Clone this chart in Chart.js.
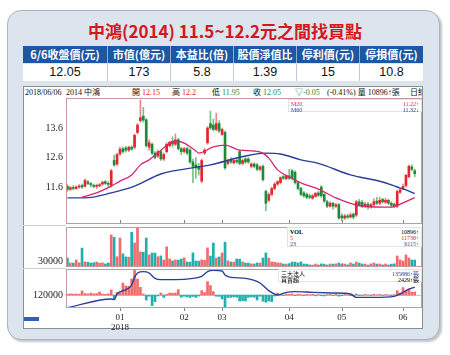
<!DOCTYPE html>
<html>
<head>
<meta charset="utf-8">
<script src="https://cdn.jsdelivr.net/npm/chart.js@4.4.0/dist/chart.umd.min.js"></script>
<style>
  body { margin: 0; width: 450px; height: 355px; background: #fff; position: relative; overflow: hidden;
         font-family: "Noto Sans CJK TC", sans-serif; }
  .abs { position: absolute; }
  #panel { left: 7px; top: 10px; width: 431px; height: 328px; border-radius: 14px; background: #dce4ed;
           border: 1px solid #a8b4c1; box-shadow: 2px 2px 2px rgba(80, 90, 100, .35); }
  #title { left: 0; width: 450px; top: 19px; text-align: center; color: #d4181e; font-weight: bold;
           font-size: 17px; line-height: 24px; white-space: nowrap; }
  .row { left: 23px; width: 400px; height: 17px; display: flex; }
  .row div { box-sizing: border-box; text-align: center; line-height: 17px; white-space: nowrap; }
  #head { top: 46px; background: #1d56a3; }
  #head div { color: #fff; font-size: 11px; font-weight: bold; border-right: 1px solid #8fabd6; }
  #vals { top: 64px; background: #fff; }
  #vals div { color: #111; font-size: 12.5px; border-right: 1px solid #bccbdb; font-family: "Liberation Sans", "Noto Sans", sans-serif; }
  .row div:last-child { border-right: none !important; }
  #box { left: 23px; top: 86px; width: 400px; height: 243px; background: #fff; border: 1px solid #8d8d8d; box-sizing: border-box; overflow: hidden; }
  .info { position: absolute; top: 88px; font-size: 8px; line-height: 10px; white-space: nowrap; color: #111;
          font-family: "Liberation Serif", "Noto Sans CJK TC", serif; }
  .r { color: #e0242a; } .g { color: #2a8a3a; } .b { color: #2a3d9c; } .m { color: #d6246e; }
  .leg { position: absolute; background: #fff; border: 1px solid #e2e2e2; box-sizing: border-box;
         font-family: "Liberation Serif", "Noto Sans CJK TC", serif; font-size: 6px; line-height: 6px; }
  .leg span { position: absolute; white-space: nowrap; }
  canvas { position: absolute; left: 23px; }
  .sep { position: absolute; left: 23px; width: 43px; height: 1px; background: #cfcfcf; }
</style>
</head>
<body>
<div id="panel" class="abs"></div>
<div id="title" class="abs">中鴻(2014) 11.5~12.2元之間找買點</div>
<div id="head" class="row abs">
  <div style="width:85px">6/6收盤價(元)</div><div style="width:63px">市值(億元)</div><div style="width:63px">本益比(倍)</div>
  <div style="width:63px">股價淨值比</div><div style="width:63px">停利價(元)</div><div style="width:63px">停損價(元)</div>
</div>
<div id="vals" class="row abs">
  <div style="width:85px">12.05</div><div style="width:63px">173</div><div style="width:63px">5.8</div>
  <div style="width:63px">1.39</div><div style="width:63px">15</div><div style="width:63px">10.8</div>
</div>
<div id="box" class="abs"></div>

<span class="info" style="left:25px">2018/06/06</span>
<span class="info" style="left:66px">2014 中鴻</span>
<span class="info" style="left:132px">開 <span class="r">12.15</span></span>
<span class="info" style="left:172px">高 <span class="r">12.2</span></span>
<span class="info" style="left:212px">低 <span class="g">11.95</span></span>
<span class="info" style="left:253px">收 <span class="g">12.05</span></span>
<span class="info g" style="left:295px">▽-0.05</span>
<span class="info" style="left:327px">(-0.41%) 量 10896↑張</span>
<span class="info" style="left:410px;width:12px;overflow:hidden">日線</span>

<div class="sep" style="top:225px"></div>
<div class="sep" style="top:268px"></div>
<div class="abs" style="left:24px;top:317px;width:15px;height:4px;background:#3060b8"></div>

<canvas id="priceChart" width="400" height="126" style="top:98px"></canvas>
<canvas id="volChart" width="400" height="40" style="top:227px"></canvas>
<canvas id="instChart" width="400" height="61" style="top:269px"></canvas>

<div class="leg" style="left:288px;top:99px;width:134px;height:13px">
  <span class="m" style="left:2px;top:1px">M20</span><span class="b" style="left:2px;top:7px">M60</span>
  <span class="m" style="right:2px;top:1px">11.22↑</span><span class="b" style="right:2px;top:7px">11.32↓</span>
</div>
<div class="leg" style="left:287px;top:227px;width:135px;height:20px">
  <span style="left:2px;top:1px;font-weight:bold">VOL</span><span class="r" style="left:2px;top:7px">5</span><span class="b" style="left:2px;top:13px">23</span>
  <span style="right:2px;top:1px">10896↑</span><span class="r" style="right:2px;top:7px">11738↑</span><span class="b" style="right:2px;top:13px">6115↑</span>
</div>
<div class="leg" style="left:278px;top:269px;width:144px;height:13px">
  <span style="left:2px;top:1px">三大法人</span><span style="left:2px;top:7px">買賣超</span>
  <span class="b" style="right:2px;top:1px">135886↑張</span><span style="right:2px;top:7px">2429↑張</span>
</div>

<script>
// ---- daily candles (Nov 2017 - 2018/06/06)
const opens  = [11.62,11.52,11.58,11.55,11.60,11.65,11.62,11.78,11.72,11.66, 11.62,11.64,11.70,11.78,11.72,11.65,12.50,12.38,12.72,12.90,
                12.92,12.85,12.95,12.95,13.45,13.85,14.00,13.88,12.95,13.05, 12.75,12.65,12.80,12.55,12.80,13.00,13.15,13.05,13.20,12.90,
                12.80,12.90,12.85,12.45,12.35,12.30,11.80,12.75,13.10,13.75, 13.70,13.55,13.75,13.38,13.45,12.40,12.52,12.42,12.50,12.80,
                12.40,12.55,12.55,12.30,12.38,12.35,12.20,12.30,11.45,11.15, 11.35,11.55,11.70,11.75,11.95,11.88,11.98,12.15,12.10,11.75,
                11.55,11.40,11.35,11.30,11.22,11.28,11.40,11.60,11.35,11.10, 10.95,11.05,10.95,11.00,10.62,10.55,10.62,10.58,10.68,10.65,
                11.10,11.08,10.95,11.02,10.92,11.00,11.12,11.05,11.18,11.08, 11.15,11.05,11.02,10.95,11.42,11.55,11.65,11.95,12.28,12.15];
const highs  = [11.68,11.62,11.65,11.64,11.68,11.70,11.88,11.82,11.75,11.70, 11.70,11.72,11.80,11.82,11.78,12.20,12.68,12.75,12.95,12.95,
                12.98,12.98,13.00,13.40,13.75,14.55,14.30,13.92,13.20,13.10, 12.80,12.85,12.85,12.75,13.10,13.15,13.30,13.40,13.25,12.95,
                12.95,12.95,12.90,12.55,12.60,12.40,12.55,12.90,13.65,14.17, 13.90,14.10,13.85,13.60,13.50,12.55,12.60,12.55,12.58,12.85,
                12.55,12.60,12.60,12.42,12.42,12.40,12.32,12.35,11.50,11.40, 11.60,11.75,11.82,11.95,12.00,12.00,12.20,12.20,12.15,11.80,
                11.60,11.45,11.40,11.35,11.35,11.42,11.45,11.65,11.38,11.15, 11.10,11.08,11.05,11.05,10.70,10.68,10.68,10.72,10.72,11.15,
                11.18,11.15,11.08,11.08,11.05,11.20,11.25,11.25,11.22,11.22, 11.18,11.10,11.05,11.50,11.55,11.70,12.02,12.35,12.35,12.20];
const lows   = [11.45,11.48,11.50,11.52,11.55,11.55,11.60,11.68,11.60,11.58, 11.55,11.60,11.65,11.68,11.62,11.60,12.30,12.32,12.68,12.75,
                12.78,12.80,12.85,12.90,13.40,13.80,13.80,12.95,12.85,12.70, 12.55,12.60,12.50,12.50,12.75,12.95,12.95,13.00,12.85,12.70,
                12.75,12.70,12.40,11.75,11.90,12.00,11.75,12.70,13.05,13.55, 13.50,13.50,13.45,13.35,12.20,12.35,12.40,12.38,12.40,12.35,
                12.35,12.40,12.40,12.25,12.25,12.15,12.15,11.80,10.80,11.10, 11.30,11.50,11.65,11.70,11.85,11.85,11.85,11.85,11.70,11.50,
                11.30,11.25,11.20,11.20,11.18,11.25,11.28,11.25,11.08,10.90, 10.92,10.85,10.90,10.50,10.45,10.50,10.52,10.55,10.52,10.60,
                10.95,10.90,10.90,10.85,10.88,10.95,11.00,11.00,11.05,11.05, 11.00,10.92,10.90,10.90,11.38,11.50,11.60,11.92,12.15,11.95];
const closes = [11.52,11.58,11.55,11.60,11.63,11.60,11.82,11.72,11.68,11.62, 11.65,11.68,11.76,11.72,11.69,12.15,12.35,12.70,12.88,12.80,
                12.85,12.95,12.88,13.35,13.70,13.95,13.87,13.00,13.10,12.75, 12.60,12.80,12.55,12.70,13.05,13.12,13.05,13.20,12.90,12.80,
                12.90,12.75,12.45,12.30,12.25,12.20,12.50,12.85,13.60,13.60, 13.55,13.75,13.50,13.55,12.25,12.50,12.45,12.50,12.45,12.40,
                12.50,12.45,12.45,12.38,12.30,12.20,12.28,11.85,11.05,11.35, 11.55,11.70,11.78,11.92,11.90,11.98,11.90,11.90,11.75,11.55,
                11.35,11.30,11.25,11.25,11.30,11.38,11.32,11.30,11.12,10.95, 11.05,10.95,11.00,10.55,10.55,10.62,10.58,10.65,10.58,11.10,
                11.00,10.95,11.02,10.92,11.00,11.10,11.05,11.15,11.10,11.15, 11.05,10.98,10.95,11.45,11.50,11.62,12.00,12.30,12.20,12.05];

// moving averages, read at a few points of each curve (bar slot -> price)
const ma20Slots  = [5, 10, 15, 18, 22, 25, 28, 31, 37, 40, 44, 45, 50, 54, 59, 64, 67, 69, 72, 76, 81, 86, 92, 99, 108, 111, 115, 119];
const ma20Values = [11.26, 11.40, 11.63, 11.80, 12.01, 12.35, 12.52, 12.76, 13.16, 13.09, 12.82, 12.75, 12.96, 13.02, 12.85, 12.82, 12.75, 12.58, 12.18, 11.94, 11.70, 11.53, 11.23, 10.99, 10.92, 10.92, 11.06, 11.24];
const ma60Slots  = [0, 6, 15, 23, 32, 49, 61, 68, 73, 80, 86, 97, 108, 113, 116, 119];
const ma60Values = [11.23, 11.23, 11.40, 11.63, 12.04, 12.35, 12.65, 12.75, 12.72, 12.52, 12.40, 12.01, 11.77, 11.60, 11.50, 11.38];

// volume (張)
const volumes = [45000,20500,19800,35500,21000,94500,25500,24000,20000,21500, 25000,19500,20500,15500,20000,160500,149000,51000,145000,65500,
                 50500,49000,174000,120500,199000,75500,74000,144500,60500,70000, 69500,51000,55500,35000,100500,40500,30500,35500,34500,40000,
                 45500,25000,24500,70500,30000,29500,35500,34000,95500,54500, 120000,45000,50500,70000,124500,30500,25000,24500,40000,39500,
                 25500,20000,19500,15500,15000,20500,19500,45000,70500,44500, 25500,24000,20500,19500,15000,14500,15500,25000,24500,20000,
                 25500,15000,14500,10500,9500,15000,10000,15500,14500,10000, 15000,14500,15500,20000,14500,15000,10500,20500,15000,25000,
                 19500,15000,14500,10000,15500,20000,14500,15000,10500,15000, 10000,14500,15500,55000,35500,30000,60500,45000,35000,34500];

// 三大法人 買賣超 (張) and holding (張, read at a few points)
const instNet = [600,900,700,800,600,3200,1200,900,1500,1000, 1100,2400,800,600,900,4000,-3200,2100,1800,9600,
                 7200,7000,12800,21000,12800,6100,800,-4000,-1000,-8500, -5300,-800,1600,-1900,500,1600,1400,1600,4300,-1800,
                 -1000,-1500,-2000,-1200,-1900,-800,3500,2000,10700,7500, 2700,-1000,-1100,-3200,-11200,-2000,-1900,-1500,-1800,-4800,
                 -4500,-4800,-1900,-1600,-1800,-4000,-1000,-5000,-5800,-4800, -5300,-800,1600,600,-400,800,500,900,-500,700,
                 400,-600,500,300,600,-700,400,-500,-800,300, 500,-400,600,-900,-600,400,300,-500,-700,800,
                 -400,-300,500,200,-400,600,300,500,-300,400, 200,-500,300,3500,1600,5900,3000,4800,2400,2429];
const holdSlots  = [0, 15, 16, 17, 20, 22, 23, 24, 26, 28, 30, 32, 37, 43, 46, 48, 50, 53, 54, 56, 61, 66, 69, 72, 75, 78, 84, 91, 97, 99, 105, 112, 114, 116, 119];
const holdValues = [94500, 112000, 110700, 122000, 130700, 140000, 155300, 164000, 166700, 164000, 153300, 150700, 150700, 153300, 157300, 166700, 169300, 168000, 160000, 155300,
                    153300, 144000, 128700, 120000, 125300, 126700, 125300, 124000, 122000, 115300, 115300, 117300, 122000, 128700, 135886];

// axis labels
const monthSlots  = [18, 40, 53, 76, 94, 115];
const monthLabels = ['01', '02', '03', '04', '05', '06'];
const yearLabel   = '2018';
const priceTicks  = [13.6, 12.6, 11.6];
const volTicks    = [30000];
const holdTicks   = [120000];
const SLOTS = 122;

const slots = Array.from({length: SLOTS}, (_, i) => i);
function sparse(idx, vals) {
  const out = new Array(closes.length).fill(null);
  idx.forEach((s, k) => { out[s] = vals[k]; });
  return out;
}
const up = closes.map((c, i) => c >= opens[i]);
const UP = '#e3262c', DOWN = '#1e8a3c', VUP = '#f26a6a', VDOWN = '#1fb0ad';

Chart.defaults.font.family = '"Liberation Serif", serif';
Chart.defaults.color = '#222';

const yFit = s => { s.width = 43; s.paddingTop = 0; s.paddingBottom = 0; };
function yAxis(min, max, ticks, extra) {
  return Object.assign({
    min: min, max: max,
    afterFit: yFit,
    afterBuildTicks: s => { s.ticks = ticks.map(v => ({value: v})); },
    grid: {display: false, drawTicks: false},
    border: {display: false},
    ticks: {padding: 3, font: {size: 10}, color: '#222'}
  }, extra || {});
}
const hiddenX = {display: false, offset: true};

// panel frame + little month ticks
const frame = {
  id: 'frame',
  afterDraw(chart, args, opts) {
    const {ctx, chartArea: a} = chart;
    const x = chart.scales.x;
    ctx.save();
    ctx.strokeStyle = '#c49999';
    ctx.lineWidth = 1;
    ctx.strokeRect(a.left + 0.5, a.top + 0.5, a.right - a.left - 1, a.bottom - a.top - 1);
    ctx.strokeStyle = '#8a8080';
    monthSlots.forEach(s => {
      const px = Math.round(x.getPixelForValue(s)) + 0.5;
      ctx.beginPath();
      if (opts.down) { ctx.moveTo(px, a.bottom); ctx.lineTo(px, a.bottom + 3); }
      else { ctx.moveTo(px, a.bottom - 1); ctx.lineTo(px, a.bottom - 4); }
      ctx.stroke();
    });
    if (opts.zeroAxis) {
      const y0 = Math.round(chart.scales[opts.zeroAxis].getPixelForValue(0)) + 0.5;
      ctx.globalCompositeOperation = 'destination-over';
      ctx.strokeStyle = '#e6b9b9';
      ctx.beginPath(); ctx.moveTo(a.left, y0); ctx.lineTo(a.right, y0); ctx.stroke();
    }
    ctx.restore();
  }
};

const common = {
  responsive: false,
  animation: false,
  layout: {padding: {left: 0, right: 1, top: 0, bottom: 0}},
  plugins: {legend: {display: false}, tooltip: {enabled: false}}
};

// ---------------- PRICE ----------------
new Chart(document.getElementById('priceChart'), {
  type: 'bar',
  data: {
    labels: slots,
    datasets: [
      {type: 'line', data: sparse(ma20Slots, ma20Values), borderColor: '#d6246e', borderWidth: 1.3, pointRadius: 0,
       spanGaps: true, cubicInterpolationMode: 'monotone', order: 0},
      {type: 'line', data: sparse(ma60Slots, ma60Values), borderColor: '#2a3d9c', borderWidth: 1.4, pointRadius: 0,
       spanGaps: true, cubicInterpolationMode: 'monotone', order: 0},
      {data: opens.map((o, i) => [o, closes[i]]), backgroundColor: up.map(u => u ? UP : DOWN),
       barThickness: 2, grouped: false, minBarLength: 1, order: 1},
      {data: lows.map((l, i) => [l, highs[i]]), backgroundColor: up.map(u => u ? '#ee8585' : '#79bf88'),
       barThickness: 1, grouped: false, order: 2}
    ]
  },
  options: Object.assign({}, common, {
    scales: {x: hiddenX, y: yAxis(10.346, 14.617, priceTicks, {ticks: {padding: 3, font: {size: 10}, callback: v => v.toFixed(1)}})},
    plugins: Object.assign({}, common.plugins, {frame: {}})
  }),
  plugins: [frame]
});

// ---------------- VOLUME ----------------
new Chart(document.getElementById('volChart'), {
  type: 'bar',
  data: {
    labels: slots,
    datasets: [{data: volumes, backgroundColor: up.map(u => u ? VUP : VDOWN), barThickness: 2}]
  },
  options: Object.assign({}, common, {
    scales: {x: hiddenX, y: yAxis(0, 200000, volTicks, {ticks: {padding: 3, font: {size: 10}, callback: v => String(v)}})},
    plugins: Object.assign({}, common.plugins, {frame: {}})
  }),
  plugins: [frame]
});

// ---------------- 三大法人 ----------------
new Chart(document.getElementById('instChart'), {
  type: 'bar',
  data: {
    labels: slots,
    datasets: [
      {type: 'line', data: sparse(holdSlots, holdValues), yAxisID: 'y', borderColor: '#2a3d9c', borderWidth: 1.4,
       pointRadius: 0, spanGaps: true, cubicInterpolationMode: 'monotone', order: 0},
      {data: instNet, yAxisID: 'yb', backgroundColor: instNet.map(v => v >= 0 ? VUP : VDOWN), barThickness: 2, order: 1}
    ]
  },
  options: Object.assign({}, common, {
    scales: {
      x: {
        offset: true,
        afterFit: s => { s.height = 22; s.paddingLeft = 0; s.paddingRight = 0; },
        grid: {display: false, drawTicks: false},
        border: {display: false},
        ticks: {
          autoSkip: false, maxRotation: 0, padding: 5, font: {size: 9, lineHeight: 1.05}, color: '#222',
          callback: (v, i) => {
            const k = monthSlots.indexOf(i);
            if (k < 0) return '';
            return k === 0 ? [monthLabels[k], yearLabel] : monthLabels[k];
          }
        }
      },
      y: yAxis(94000, 172000, holdTicks, {ticks: {padding: 3, font: {size: 10}, callback: v => String(v)}}),
      yb: {display: false, min: -10400, max: 20800}
    },
    plugins: Object.assign({}, common.plugins, {frame: {down: true, zeroAxis: 'yb'}})
  }),
  plugins: [frame]
});
</script>
</body>
</html>
